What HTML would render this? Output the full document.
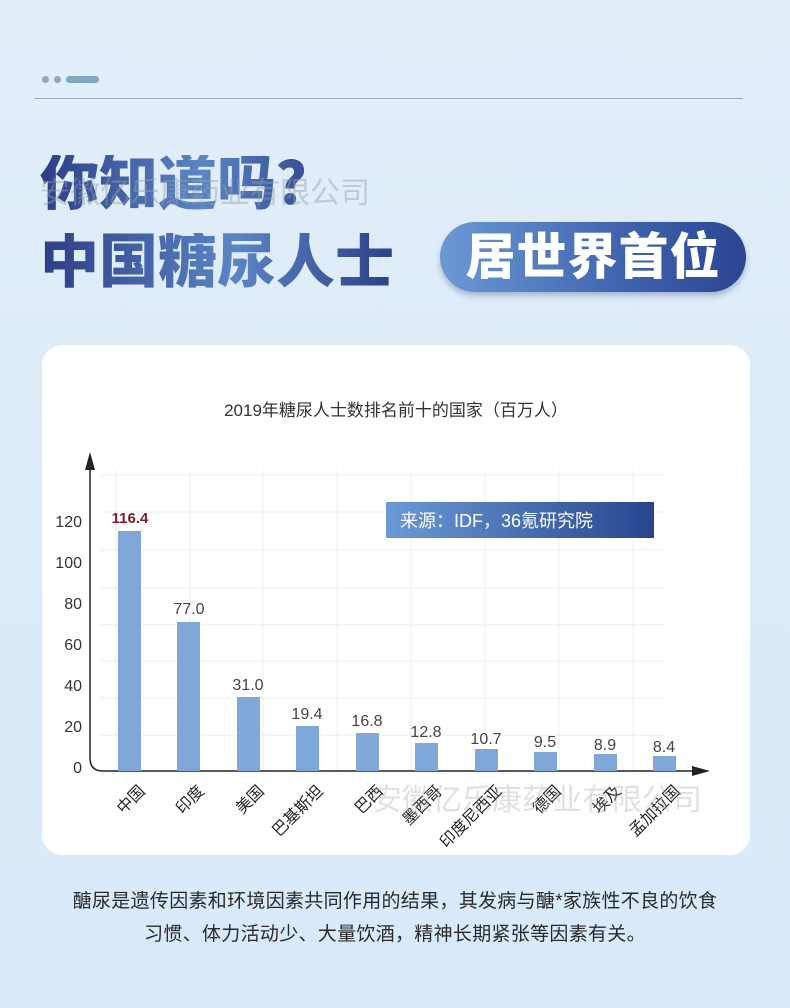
<!DOCTYPE html>
<html><head><meta charset="utf-8">
<style>
html,body{margin:0;padding:0}
body{width:790px;height:1008px;overflow:hidden;background:linear-gradient(180deg,#e3eff9 0%,#dcebf8 50%,#d8e9fa 100%);font-family:"Liberation Sans","Noto Sans CJK SC",sans-serif;position:relative}
.abs{position:absolute}
.big{font-weight:900;font-size:59px;line-height:1;letter-spacing:0px;background:linear-gradient(90deg,#2c3d86 0%,#5a86c4 55%,#2c3f88 100%);-webkit-background-clip:text;background-clip:text;color:transparent}
.pill{left:440px;top:222px;width:306px;height:70px;border-radius:36px;background:linear-gradient(90deg,#6c9ad6 0%,#3f63ad 60%,#2b4593 100%);box-shadow:0 4px 6px rgba(40,60,120,.3);color:#fff;font-weight:900;font-size:50px;line-height:70px;text-align:center;letter-spacing:1px}
.card{left:42px;top:345px;width:708px;height:510px;background:#fff;border-radius:20px}
.foot{left:0;width:790px;text-align:center;font-size:19px;color:#2a2a2a;letter-spacing:0.3px}
</style></head><body>
<div class="abs" style="left:42px;top:76px;width:7px;height:7px;border-radius:50%;background:#8fa8bf"></div>
<div class="abs" style="left:54px;top:76px;width:7px;height:7px;border-radius:50%;background:#8fa8bf"></div>
<div class="abs" style="left:66px;top:76px;width:33px;height:7px;border-radius:4px;background:#7fa7c6"></div>
<div class="abs" style="left:35px;top:98px;width:708px;height:1px;background:#98aabd"></div>
<div class="abs big" style="left:40px;top:155px">你知道吗？</div>
<div class="abs big" style="left:40px;top:233px">中国糖尿人士</div>
<div class="abs" style="left:40px;top:168px;font-size:30px;color:rgba(150,160,175,.45)">安徽亿乐康药业有限公司</div>
<div class="abs pill">居世界首位</div>
<div class="abs card"></div>
<svg class="abs" style="left:0;top:0" width="790" height="1008" font-family="Liberation Sans, Noto Sans CJK SC, sans-serif">
<text x="396" y="416" text-anchor="middle" font-size="17" fill="#333">2019年糖尿人士数排名前十的国家（百万人）</text>
<g stroke="#e8ecf0" stroke-width="1">
<line x1="100" y1="475" x2="665" y2="475"/><line x1="100" y1="512" x2="665" y2="512"/><line x1="100" y1="550" x2="665" y2="550"/><line x1="100" y1="588" x2="665" y2="588"/><line x1="100" y1="625" x2="665" y2="625"/><line x1="100" y1="661" x2="665" y2="661"/><line x1="100" y1="698" x2="665" y2="698"/><line x1="100" y1="735" x2="665" y2="735"/>
<line x1="116" y1="470" x2="116" y2="770"/><line x1="190" y1="470" x2="190" y2="770"/><line x1="263" y1="470" x2="263" y2="770"/><line x1="337" y1="470" x2="337" y2="770"/><line x1="411" y1="470" x2="411" y2="770"/><line x1="485" y1="470" x2="485" y2="770"/><line x1="559" y1="470" x2="559" y2="770"/><line x1="633" y1="470" x2="633" y2="770"/>
</g>
<path d="M90 462 V758 Q90 771 103 771 H698" fill="none" stroke="#222" stroke-width="1.5"/>
<polygon points="90,452 85,470 95,470" fill="#222"/>
<polygon points="710,771 692,766 692,776" fill="#222"/>
<g font-size="16" fill="#333" text-anchor="end">
<text x="82" y="527">120</text><text x="82" y="568">100</text><text x="82" y="609">80</text><text x="82" y="650">60</text><text x="82" y="691">40</text><text x="82" y="732">20</text><text x="82" y="773">0</text>
</g>
<g fill="#7fa8d8">
<rect x="118" y="531" width="23" height="240"/>
<rect x="177" y="622" width="23" height="149"/>
<rect x="237" y="697" width="23" height="74"/>
<rect x="296" y="726" width="23" height="45"/>
<rect x="356" y="733" width="23" height="38"/>
<rect x="415" y="743" width="23" height="28"/>
<rect x="475" y="749" width="23" height="22"/>
<rect x="534" y="752" width="23" height="19"/>
<rect x="594" y="754" width="23" height="17"/>
<rect x="653" y="756" width="23" height="15"/>
</g>
<text x="130" y="523" text-anchor="middle" font-size="15" font-weight="bold" fill="#7a1c2a">116.4</text>
<g font-size="16" fill="#444" text-anchor="middle">
<text x="189" y="614">77.0</text><text x="248" y="690">31.0</text><text x="307" y="719">19.4</text><text x="367" y="726">16.8</text><text x="426" y="737">12.8</text><text x="486" y="744">10.7</text><text x="545" y="747">9.5</text><text x="605" y="750">8.9</text><text x="664" y="752">8.4</text>
</g>
<g font-size="16" fill="#222" text-anchor="end">
<text transform="translate(146,792) rotate(-45)">中国</text>
<text transform="translate(205,792) rotate(-45)">印度</text>
<text transform="translate(265,792) rotate(-45)">美国</text>
<text transform="translate(324,792) rotate(-45)">巴基斯坦</text>
<text transform="translate(384,792) rotate(-45)">巴西</text>
<text transform="translate(443,792) rotate(-45)">墨西哥</text>
<text transform="translate(503,792) rotate(-45)">印度尼西亚</text>
<text transform="translate(562,792) rotate(-45)">德国</text>
<text transform="translate(622,792) rotate(-45)">埃及</text>
<text transform="translate(681,792) rotate(-45)">孟加拉国</text>
</g>
<text x="372" y="810" font-size="30" fill="rgba(160,165,175,.35)">安徽亿乐康药业有限公司</text>
<defs><linearGradient id="sg" x1="0" x2="1"><stop offset="0" stop-color="#6b9ad6"/><stop offset="1" stop-color="#27458f"/></linearGradient></defs>
<rect x="386" y="502" width="268" height="36" fill="url(#sg)"/>
<text x="400" y="527" font-size="18" fill="#fff">来源：IDF，36氪研究院</text>
</svg>
<div class="abs foot" style="top:886px">醣尿是遗传因素和环境因素共同作用的结果，其发病与醣*家族性不良的饮食</div>
<div class="abs foot" style="top:919px">习惯、体力活动少、大量饮酒，精神长期紧张等因素有关。</div>
</body></html>
